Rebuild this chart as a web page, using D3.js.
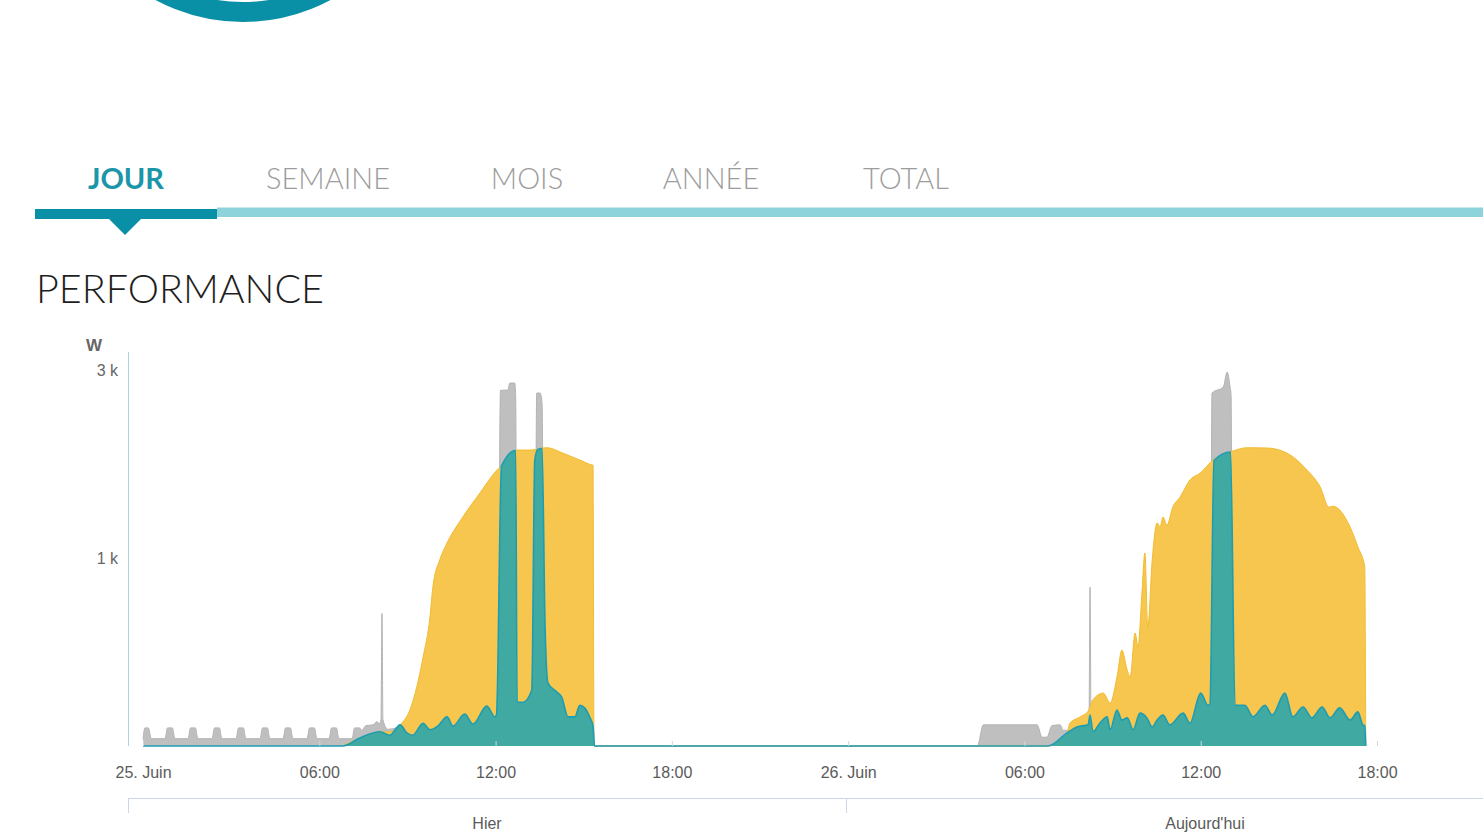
<!DOCTYPE html>
<html>
<head>
<meta charset="utf-8">
<script src="https://cdn.jsdelivr.net/npm/d3@7"></script>
<style>
  body { margin: 0; background: #fff; overflow: hidden; }
  svg { display: block; }
</style>
</head>
<body>
<figure id="perf-chart" style="margin:0"></figure>
<script>
// tabs and day labels
var tabs = ["JOUR", "SEMAINE", "MOIS", "ANNÉE", "TOTAL"];
var days = ["Hier", "Aujourd'hui"];

// axis ticks
var xTicks = ["25 00:00", "25 06:00", "25 12:00", "25 18:00", "26 00:00", "26 06:00", "26 12:00", "26 18:00"];
var xTickLabels = ["25. Juin", "06:00", "12:00", "18:00", "26. Juin", "06:00", "12:00", "18:00"];
var yTicks = [1000, 3000];
var yTickLabels = ["1 k", "3 k"];

// consumption (grey), W
var consumption = [
  ["25 00:00", 6], ["25 00:04", 25], ["25 00:11", 25], ["25 00:17", 6],
  ["25 00:45", 6], ["25 00:50", 25], ["25 01:00", 25], ["25 01:05", 6],
  ["25 01:32", 6], ["25 01:37", 25], ["25 01:47", 25], ["25 01:52", 6],
  ["25 02:21", 6], ["25 02:26", 25], ["25 02:36", 25], ["25 02:41", 6],
  ["25 03:10", 6], ["25 03:15", 25], ["25 03:25", 25], ["25 03:30", 6],
  ["25 03:59", 6], ["25 04:04", 25], ["25 04:14", 25], ["25 04:19", 6],
  ["25 04:46", 6], ["25 04:51", 25], ["25 05:01", 25], ["25 05:06", 6],
  ["25 05:35", 6], ["25 05:40", 25], ["25 05:50", 25], ["25 05:55", 6],
  ["25 06:20", 6], ["25 06:25", 25], ["25 06:35", 25], ["25 06:40", 6],
  ["25 07:07", 6], ["25 07:12", 25], ["25 07:22", 25], ["25 07:27", 20],
  ["25 07:35", 30], ["25 07:50", 32], ["25 07:58", 40], ["25 08:02", 34],
  ["25 08:06", 45], ["25 08:08", 580], ["25 08:10", 45], ["25 08:20", 22],
  ["25 09:00", 30], ["25 10:00", 30], ["25 11:00", 40], ["25 12:05", 60],
  ["25 12:10", 2760], ["25 12:25", 2763], ["25 12:29", 2850], ["25 12:39", 2850],
  ["25 12:41", 2700], ["25 12:44", 100], ["25 13:20", 140], ["25 13:24", 2727],
  ["25 13:31", 2727], ["25 13:35", 2600], ["25 13:39", 300], ["25 14:00", 140],
  ["25 15:00", 80], ["25 15:19", 30], ["25 15:22", 0],
  ["26 04:24", 0], ["26 04:36", 32], ["26 06:26", 32], ["26 06:36", 8],
  ["26 06:46", 8], ["26 06:56", 30], ["26 07:13", 32], ["26 07:19", 20],
  ["26 07:30", 20], ["26 08:10", 30], ["26 08:12", 60], ["26 08:14", 773],
  ["26 08:16", 60], ["26 09:00", 40], ["26 12:20", 100], ["26 12:23", 2727],
  ["26 12:46", 2800], ["26 12:54", 2987], ["26 13:00", 2800], ["26 13:02", 2700],
  ["26 13:05", 90], ["26 17:35", 30], ["26 17:37", 0]
];

// production (yellow), W
var production = [
  ["25 06:48", 0], ["25 07:23", 7], ["25 08:04", 17], ["25 08:24", 17],
  ["25 08:45", 32], ["25 09:05", 74], ["25 09:19", 161], ["25 09:32", 309],
  ["25 09:46", 555], ["25 09:52", 773], ["25 10:06", 993], ["25 10:17", 1103],
  ["25 10:53", 1376], ["25 11:28", 1611], ["25 12:03", 1848], ["25 12:23", 1933],
  ["25 12:44", 2064], ["25 13:10", 2064], ["25 13:45", 2090], ["25 14:17", 2031],
  ["25 14:52", 1955], ["25 15:17", 1902], ["25 15:19", 1900], ["25 15:21", 0],
  ["26 06:48", 0], ["26 07:27", 15], ["26 07:33", 36], ["26 07:54", 53],
  ["26 08:10", 70], ["26 08:20", 110], ["26 08:41", 136], ["26 08:55", 98],
  ["26 09:09", 207], ["26 09:19", 348], ["26 09:30", 240], ["26 09:36", 207],
  ["26 09:46", 451], ["26 09:52", 366], ["26 10:00", 728], ["26 10:06", 1050],
  ["26 10:12", 489], ["26 10:21", 993], ["26 10:31", 1320], ["26 10:37", 1283],
  ["26 10:43", 1376], ["26 10:51", 1300], ["26 11:03", 1472], ["26 11:18", 1571],
  ["26 11:38", 1744], ["26 11:59", 1817], ["26 12:25", 1955], ["26 13:00", 2042],
  ["26 13:35", 2090], ["26 14:15", 2087], ["26 14:56", 2031], ["26 15:37", 1848],
  ["26 16:04", 1672], ["26 16:22", 1470], ["26 16:30", 1480], ["26 17:05", 1283],
  ["26 17:21", 1103], ["26 17:35", 933], ["26 17:37", 0]
];

// self consumption (teal), W
var selfConsumption = [
  ["25 00:00", 0], ["25 06:48", 0], ["25 07:23", 7], ["25 08:04", 17],
  ["25 08:24", 11], ["25 08:45", 32], ["25 08:59", 15], ["25 09:11", 11],
  ["25 09:32", 36], ["25 09:46", 21], ["25 10:02", 29], ["25 10:21", 53],
  ["25 10:33", 29], ["25 10:57", 61], ["25 11:14", 34], ["25 11:42", 87],
  ["25 11:59", 53], ["25 12:02", 60], ["25 12:12", 1890], ["25 12:41", 2060],
  ["25 12:44", 101], ["25 12:56", 101], ["25 13:14", 149], ["25 13:20", 1950],
  ["25 13:26", 2070], ["25 13:35", 2080], ["25 13:41", 500], ["25 13:47", 179],
  ["25 14:05", 140], ["25 14:15", 120], ["25 14:28", 53], ["25 14:42", 53],
  ["25 14:52", 90], ["25 15:02", 81], ["25 15:13", 50], ["25 15:19", 30],
  ["25 15:22", 0],
  ["26 06:48", 0], ["26 07:27", 15], ["26 07:47", 27], ["26 08:10", 32],
  ["26 08:14", 58], ["26 08:20", 17], ["26 08:34", 36], ["26 08:49", 53],
  ["26 08:55", 21], ["26 09:09", 74], ["26 09:19", 44], ["26 09:30", 50],
  ["26 09:42", 21], ["26 09:56", 64], ["26 10:10", 50], ["26 10:21", 27],
  ["26 10:31", 44], ["26 10:43", 58], ["26 10:57", 32], ["26 11:24", 64],
  ["26 11:38", 36], ["26 12:00", 136], ["26 12:15", 90], ["26 12:19", 95],
  ["26 12:27", 1950], ["26 13:01", 2042], ["26 13:10", 90], ["26 13:30", 90],
  ["26 13:47", 53], ["26 14:11", 90], ["26 14:26", 58], ["26 14:52", 136],
  ["26 15:08", 53], ["26 15:29", 84], ["26 15:47", 50], ["26 16:08", 84],
  ["26 16:24", 50], ["26 16:44", 81], ["26 17:05", 44], ["26 17:21", 68],
  ["26 17:31", 32], ["26 17:35", 30], ["26 17:37", 0]
];

function perfChart() {
  var width = 1483, height = 839;
  var parseTime = d3.timeParse("%d %H:%M");

  var svg = d3.select("figure#perf-chart")
    .append("svg")
      .attr("width", width)
      .attr("height", height);

  // logo ring peeking in at the top
  svg.append("circle")
    .attr("cx", 243)
    .attr("cy", -163)
    .attr("r", 175)
    .attr("fill", "none")
    .attr("stroke", "#0a90a6")
    .attr("stroke-width", 20);

  // tab bar
  var tabCenters = [126, 328, 527, 711, 906];
  svg.selectAll("text.tab")
    .data(tabs)
    .enter()
    .append("text")
      .attr("class", "tab")
      .attr("x", function(d, i) { return tabCenters[i]; })
      .attr("y", 189)
      .attr("text-anchor", "middle")
      .style("font-family", "Lato, 'Open Sans', sans-serif")
      .style("font-size", "29px")
      .style("font-weight", function(d, i) { return i == 0 ? 700 : 300; })
      .style("fill", function(d, i) { return i == 0 ? "#1a96a8" : "#9c9c9c"; })
      .text(function(d) { return d; });

  svg.append("rect")
    .attr("x", 217).attr("y", 207.5)
    .attr("width", width - 217).attr("height", 9.5)
    .attr("fill", "#8dd3dc");
  svg.append("rect")
    .attr("x", 35).attr("y", 209)
    .attr("width", 182).attr("height", 10)
    .attr("fill", "#0a90a6");
  svg.append("path")
    .attr("d", "M108,218L142,218L125,235Z")
    .attr("fill", "#0a90a6");

  svg.append("text")
    .attr("x", 36)
    .attr("y", 303)
    .attr("textLength", 288)
    .attr("lengthAdjust", "spacingAndGlyphs")
    .style("font-family", "Lato, 'Open Sans', sans-serif")
    .style("font-size", "39px")
    .style("font-weight", 300)
    .style("fill", "#1e1e1e")
    .text("PERFORMANCE");

  // scales
  var x = d3.scaleTime()
    .domain([parseTime("25 00:00"), parseTime("26 18:00")])
    .range([143, 1377]);

  var y = d3.scalePow()
    .exponent(0.633)
    .domain([0, 3244])
    .range([746, 352]);

  var area = d3.area()
    .curve(d3.curveMonotoneX)
    .x(function(d) { return x(parseTime(d[0])); })
    .y0(y(0))
    .y1(function(d) { return y(d[1]); });

  var line = d3.line()
    .curve(d3.curveMonotoneX)
    .x(function(d) { return x(parseTime(d[0])); })
    .y(function(d) { return y(d[1]); });

  // grey consumption
  svg.append("path")
    .datum(consumption)
    .attr("fill", "#bfbfbf")
    .attr("d", area);
  svg.append("path")
    .datum(consumption)
    .attr("fill", "none")
    .attr("stroke", "#b4b4b4")
    .attr("stroke-width", 1)
    .attr("d", line);

  // yellow production
  svg.append("path")
    .datum(production)
    .attr("fill", "#f6c64f")
    .attr("d", area);
  svg.append("path")
    .datum(production)
    .attr("fill", "none")
    .attr("stroke", "#f3bb2e")
    .attr("stroke-width", 1)
    .attr("d", line);

  // teal self consumption
  svg.append("path")
    .datum(selfConsumption)
    .attr("fill", "#40a9a2")
    .attr("d", area);
  svg.append("path")
    .datum(selfConsumption)
    .attr("fill", "none")
    .attr("stroke", "#1e9db2")
    .attr("stroke-width", 1.6)
    .attr("d", line);

  // x axis
  var xAxis = svg.append("g")
    .attr("transform", "translate(0,746)")
    .call(d3.axisBottom(x)
      .tickValues(xTicks.map(parseTime))
      .tickFormat(function(d, i) { return xTickLabels[i]; })
      .tickSize(-5)
      .tickPadding(21));
  xAxis.select(".domain").remove();
  xAxis.selectAll(".tick line").attr("stroke", "#ccd6eb");
  xAxis.selectAll(".tick text")
    .style("font-family", "'Liberation Sans', Arial, sans-serif")
    .style("font-size", "16px")
    .style("fill", "#5a5a5a");

  // y axis
  svg.append("line")
    .attr("x1", 128.5).attr("x2", 128.5)
    .attr("y1", 352).attr("y2", 746)
    .attr("stroke", "#aed0e3")
    .attr("stroke-width", 1);
  svg.selectAll("text.ytick")
    .data(yTicks)
    .enter()
    .append("text")
      .attr("class", "ytick")
      .attr("x", 118)
      .attr("y", function(d) { return y(d) + 5; })
      .attr("text-anchor", "end")
      .style("font-family", "'Liberation Sans', Arial, sans-serif")
      .style("font-size", "16px")
      .style("fill", "#666")
      .text(function(d, i) { return yTickLabels[i]; });
  svg.append("text")
    .attr("x", 94)
    .attr("y", 351)
    .attr("text-anchor", "middle")
    .style("font-family", "'Liberation Sans', Arial, sans-serif")
    .style("font-size", "17px")
    .style("font-weight", "bold")
    .style("fill", "#666")
    .text("W");

  // day axis below
  var dayX = d3.scaleBand()
    .domain(days)
    .range([128, 1564]);
  svg.append("line")
    .attr("x1", 128).attr("x2", width)
    .attr("y1", 798.5).attr("y2", 798.5)
    .attr("stroke", "#ccd6eb");
  svg.selectAll("line.daytick")
    .data(days)
    .enter()
    .append("line")
      .attr("class", "daytick")
      .attr("x1", function(d) { return dayX(d) + 0.5; })
      .attr("x2", function(d) { return dayX(d) + 0.5; })
      .attr("y1", 798).attr("y2", 813)
      .attr("stroke", "#ccd6eb");
  svg.selectAll("text.day")
    .data(days)
    .enter()
    .append("text")
      .attr("class", "day")
      .attr("x", function(d) { return dayX(d) + dayX.bandwidth() / 2; })
      .attr("y", 829)
      .attr("text-anchor", "middle")
      .style("font-family", "'Liberation Sans', Arial, sans-serif")
      .style("font-size", "16px")
      .style("fill", "#5a5a5a")
      .text(function(d) { return d; });
}

perfChart();
</script>
</body>
</html>
